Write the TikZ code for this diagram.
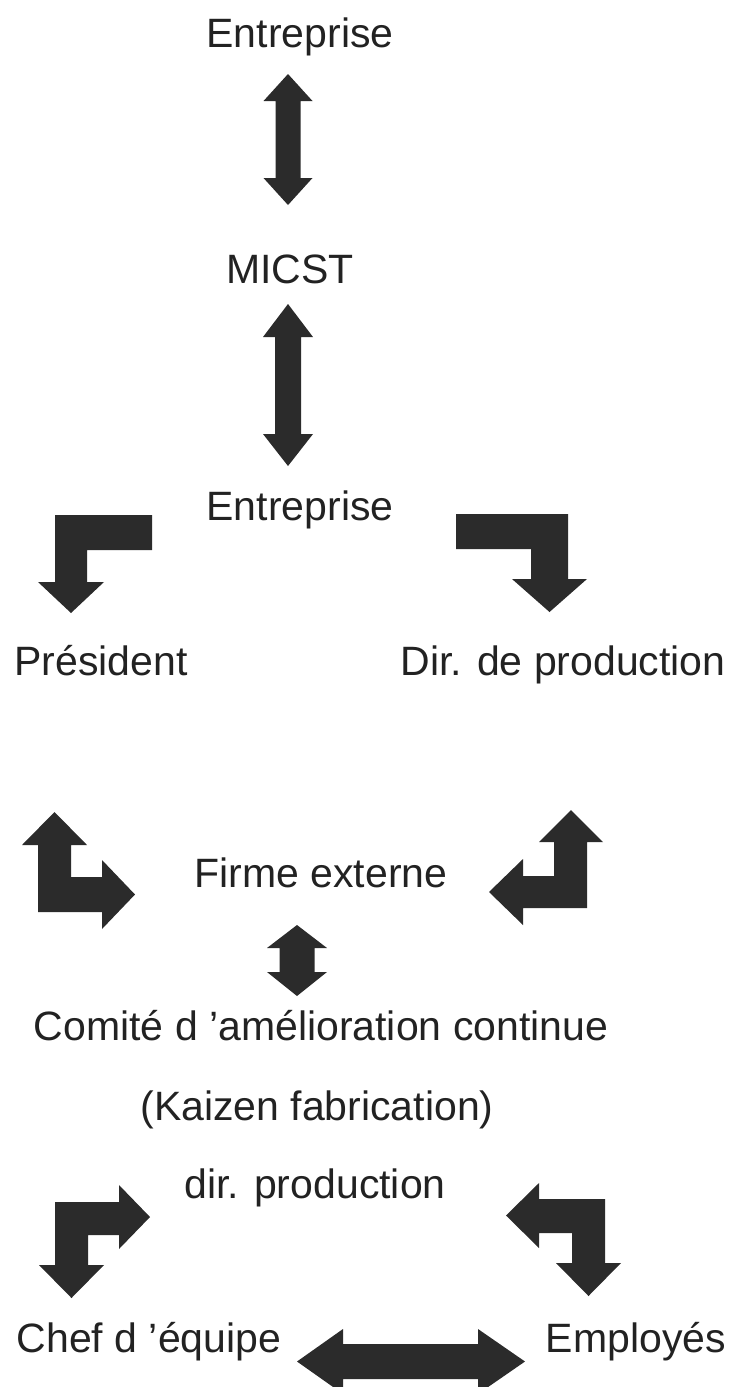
\documentclass[tikz,border=0pt]{standalone}
\usepackage{fontspec}
\setmainfont{Liberation Sans}
\definecolor{arrowgray}{HTML}{2B2B2B}
\definecolor{txtgray}{HTML}{222222}
\begin{document}
\begin{tikzpicture}[x=1pt,y=-1pt,
  lbl/.style={anchor=base,inner sep=0pt,text=txtgray,font=\fontsize{41}{49}\selectfont},
  blockarrow/.style={fill=arrowgray,draw=none}]
\useasboundingbox (0,0) rectangle (751,1387);
% labels
\node[lbl] (ent1) at (300,47) {Entreprise};
\node[lbl] (micst) at (290,283) {MICST};
\node[lbl] (ent2) at (300,520) {Entreprise};
\node[lbl] (pres) at (101,675) {Président};
\node[lbl] (dirprod) at (563,675) {Dir. de production};
\node[lbl] (firme) at (321,887) {Firme externe};
\node[lbl] (comite) at (321,1040) {Comité d ’amélioration continue};
\node[lbl] (kaizen) at (317,1120) {(Kaizen fabrication)};
\node[lbl] (dirp2) at (315,1198) {dir. production};
\node[lbl] (chef) at (149,1352) {Chef d ’équipe};
\node[lbl] (empl) at (636,1352) {Employés};
% vertical double arrows
\fill[blockarrow] (288,74) -- (312.5,101) -- (300.5,101) -- (300.5,178) -- (312.5,178) -- (288,205) -- (263.5,178) -- (275.5,178) -- (275.5,101) -- (263.5,101) -- cycle;
\fill[blockarrow] (288,304) -- (313,337) -- (301,337) -- (301,434) -- (313,434) -- (288,466) -- (263,434) -- (275,434) -- (275,337) -- (263,337) -- cycle;
\fill[blockarrow] (297,925) -- (327,948) -- (314.5,948) -- (314.5,972) -- (327,972) -- (297,996) -- (267,972) -- (279.5,972) -- (279.5,948) -- (267,948) -- cycle;
% bent arrows
\fill[blockarrow] (152,515) -- (55,515) -- (55,582) -- (38,582) -- (71,613) -- (104,582) -- (87,582) -- (87,550) -- (152,550) -- cycle;
\fill[blockarrow] (456,514) -- (568,514) -- (568,579) -- (587,579) -- (549.5,612) -- (512,579) -- (531,579) -- (531,549) -- (456,549) -- cycle;
\fill[blockarrow] (54.5,812) -- (87,845) -- (71,845) -- (71,877) -- (102,877) -- (102,860) -- (135,894.5) -- (102,929) -- (102,912) -- (38,912) -- (38,845) -- (22,845) -- cycle;
\fill[blockarrow] (571,810) -- (603,842) -- (587,842) -- (587,908) -- (523,908) -- (523,925) -- (489,892) -- (523,859) -- (523,876) -- (554,876) -- (554,842) -- (539,842) -- cycle;
\fill[blockarrow] (55,1202) -- (119,1202) -- (119,1185) -- (150,1217) -- (119,1249) -- (119,1235) -- (88,1235) -- (88,1265) -- (104,1265) -- (71.5,1298) -- (39,1265) -- (55,1265) -- cycle;
\fill[blockarrow] (605,1199) -- (539,1199) -- (539,1183) -- (506,1215.5) -- (539,1248) -- (539,1233) -- (572,1233) -- (572,1263) -- (556,1263) -- (588.5,1296) -- (621,1263) -- (605,1263) -- cycle;
% horizontal double arrow
\fill[blockarrow] (297,1361.5) -- (343,1329) -- (343,1344) -- (478,1344) -- (478,1329) -- (525,1361.5) -- (478,1394) -- (478,1379) -- (343,1379) -- (343,1394) -- cycle;
\end{tikzpicture}
\end{document}
